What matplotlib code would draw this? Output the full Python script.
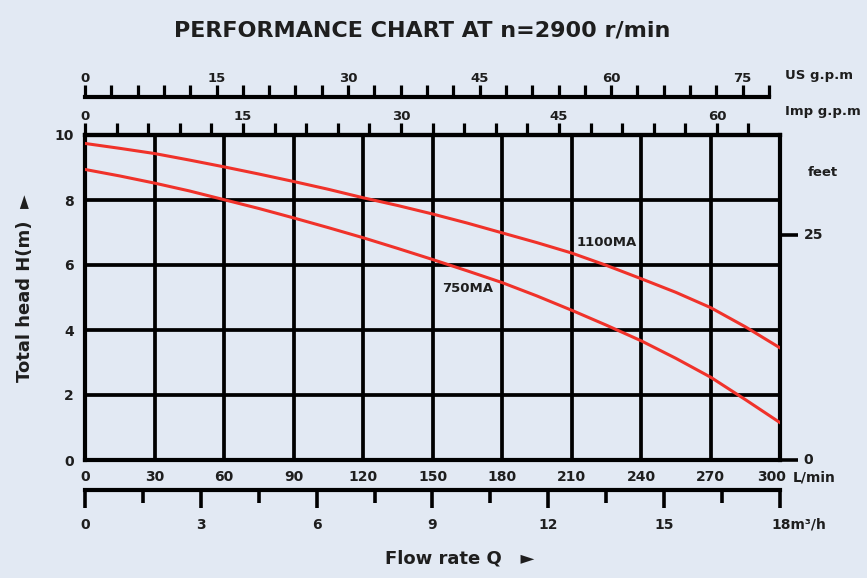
import numpy as np
import matplotlib
matplotlib.use("Agg")
import matplotlib.pyplot as plt
from matplotlib.ticker import MultipleLocator, FixedLocator
from matplotlib.transforms import ScaledTranslation

# data (flow in L/min, head in m)
flow = [0, 15, 30, 45, 60, 75, 90, 105, 120, 135, 150,
        165, 180, 195, 210, 225, 240, 255, 270, 285, 300]
head_1100 = [9.74, 9.59, 9.43, 9.23, 9.02, 8.80, 8.57, 8.33, 8.07, 7.83, 7.57,
             7.29, 6.99, 6.69, 6.37, 5.99, 5.58, 5.16, 4.69, 4.10, 3.45]
head_750 = [8.94, 8.74, 8.52, 8.28, 8.01, 7.74, 7.45, 7.15, 6.84, 6.51, 6.17,
            5.82, 5.46, 5.05, 4.61, 4.15, 3.67, 3.13, 2.55, 1.86, 1.15]
models = ["1100MA", "750MA"]
label_pos = [(225, 6.7), (165, 5.27)]

flow_ticks = [0, 30, 60, 90, 120, 150, 180, 210, 240, 270, 300]
head_ticks = [0, 2, 4, 6, 8, 10]
m3h_ticks = [0, 3, 6, 9, 12, 15, 18]
imp_ticks = [0, 15, 30, 45, 60]
us_ticks = [0, 15, 30, 45, 60, 75]
feet_ticks = [0, 25]

LMIN_PER_IMP = 4.546
LMIN_PER_US = 3.785

bg = "#E2E9F3"
ink = "#1E1E1E"
red = "#F0322A"
plt.rcParams["font.family"] = ["DejaVu Sans"]
plt.rcParams["font.weight"] = "bold"

W, H = 867, 578
fig = plt.figure(figsize=(W / 100, H / 100), dpi=100, facecolor=bg)

L, R, T, B = 85 / W, 780 / W, 1 - 135 / H, 1 - 460 / H
ax = fig.add_axes([L, B, R - L, T - B])
ax.set_facecolor(bg)
ax.set_xlim(0, 300)
ax.set_ylim(0, 10)
ax.set_xticks(flow_ticks)
ax.set_yticks(head_ticks)
ax.set_xticklabels([str(v) for v in flow_ticks], fontsize=10, color=ink)
ax.set_yticklabels([str(v) for v in head_ticks], fontsize=10, color=ink)
ax.tick_params(axis="both", length=0)
ax.tick_params(axis="x", pad=7)
ax.tick_params(axis="y", pad=8)
ax.grid(True, color="black", lw=2.7)
for s in ax.spines.values():
    s.set_linewidth(3)
ax.set_axisbelow(True)
# "300" sits a little left of its gridline, next to the unit
last = ax.get_xticklabels()[-1]
last.set_transform(last.get_transform() + ScaledTranslation(-6 / 72, 0, fig.dpi_scale_trans))

ax.plot(flow, head_1100, color=red, lw=2.2, zorder=3)
ax.plot(flow, head_750, color=red, lw=2.2, zorder=3)
for name, (x, y) in zip(models, label_pos):
    ax.text(x, y, name, fontsize=9.5, color=ink, ha="center", va="center", zorder=4)

ax.annotate("L/min", xy=(1, 0), xycoords="axes fraction", xytext=(9, -12.5),
            textcoords="offset points", fontsize=10, color=ink, va="center", ha="left")

# feet axis on the right
axf = ax.twinx()
axf.set_ylim(0, 36.1)
axf.set_yticks(feet_ticks)
axf.set_yticklabels([str(v) for v in feet_ticks], fontsize=10, color=ink,
                    va="center")
axf.tick_params(axis="y", length=13, width=2.6, pad=4, direction="out")
for s in axf.spines.values():
    s.set_visible(False)
fig.text(808 / W, 1 - 173 / H, "feet", fontsize=9.5, color=ink, ha="left", va="center")


def scale_axis(ypix, xmax, side):
    a = fig.add_axes([L, 1 - ypix / H, R - L, 1e-4])
    a.patch.set_visible(False)
    a.set_xlim(0, xmax)
    a.set_yticks([])
    for k, s in a.spines.items():
        s.set_visible(k == side)
        s.set_linewidth(3)
    a.xaxis.set_ticks_position(side)
    a.xaxis.set_label_position(side)
    return a


# Imp g.p.m on the top frame
aimp = scale_axis(135, 300 / LMIN_PER_IMP, "top")
aimp.xaxis.set_major_locator(FixedLocator(imp_ticks))
aimp.xaxis.set_minor_locator(MultipleLocator(3))
aimp.set_xticklabels([str(v) for v in imp_ticks], fontsize=9.5, color=ink)
aimp.tick_params(axis="x", which="both", length=8.5, width=2.3, direction="out", pad=0)
fig.text(785 / W, 1 - 112 / H, "Imp g.p.m", fontsize=9.5, color=ink, ha="left", va="center")

# US g.p.m above it
aus = scale_axis(97, 300 / LMIN_PER_US, "top")
aus.spines["top"].set_bounds(0, 78)
aus.xaxis.set_major_locator(FixedLocator(us_ticks))
aus.xaxis.set_minor_locator(FixedLocator(list(range(0, 79, 3))))
aus.set_xticklabels([str(v) for v in us_ticks], fontsize=9.5, color=ink)
aus.tick_params(axis="x", which="both", length=8.5, width=2.3, direction="out", pad=0)
fig.text(785 / W, 1 - 75 / H, "US g.p.m", fontsize=9.5, color=ink, ha="left", va="center")

# m3/h below the plot
am3 = scale_axis(490, 18, "bottom")
am3.xaxis.set_major_locator(FixedLocator(m3h_ticks))
am3.xaxis.set_minor_locator(MultipleLocator(1.5))
am3.set_xticklabels([str(v) for v in m3h_ticks[:-1]] + [""], fontsize=10, color=ink)
am3.tick_params(axis="x", which="major", length=13, width=2.6, direction="out", pad=7)
am3.tick_params(axis="x", which="minor", length=9, width=2.6, direction="out")
am3.annotate("18m\u00b3/h", xy=(18, 0), xycoords=("data", "axes fraction"), xytext=(-6, -25),
             textcoords="offset points", fontsize=10, color=ink, ha="left", va="center")

fig.text(0.5 * (175 + 670) / W, 1 - 31 / H, "PERFORMANCE CHART AT n=2900 r/min",
         fontsize=16, color=ink, ha="center", va="center")
fig.text(460 / W, 1 - 558 / H, "Flow rate Q   \u25ba", fontsize=13, color=ink,
         ha="center", va="center")
fig.text(25 / W, 1 - 288 / H, "Total head H(m)  \u25ba", fontsize=13, color=ink,
         ha="center", va="center", rotation=90)

fig.savefig("out.png", dpi=100, facecolor=bg)
